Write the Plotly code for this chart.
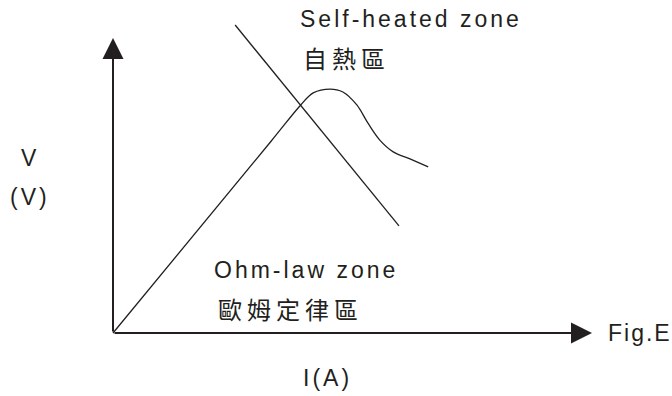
import plotly.graph_objects as go

# V-I characteristic (arbitrary units)
current = [0, 3.3, 3.92, 4.18, 4.53, 4.80, 5.09, 5.32, 5.57, 5.85, 6.20, 6.58]
voltage = [0, 6.5, 7.73, 8.14, 8.27, 8.17, 7.73, 7.12, 6.54, 6.14, 5.90, 5.63]

# straight load line crossing the curve
line_i = [2.55, 5.97]
line_v = [10.44, 3.63]

# axis extents
axis_i_end = 10
axis_v_end = 10

INK = "#231f20"
FONT = "Liberation Sans, Arial, Noto Sans CJK TC, sans-serif"


def spaced(text, px):
    return f'<span style="letter-spacing:{px}px">{text}</span>'


fig = go.Figure()
fig.add_trace(go.Scatter(x=current, y=voltage, mode="lines",
                         line=dict(color=INK, width=1.3, shape="spline", smoothing=1.0),
                         hoverinfo="skip"))
fig.add_trace(go.Scatter(x=line_i, y=line_v, mode="lines",
                         line=dict(color=INK, width=1.3), hoverinfo="skip"))

# axes drawn as arrows from the origin
for hx, hy in [(axis_i_end, 0), (0, axis_v_end)]:
    fig.add_annotation(x=hx, y=hy, ax=0, ay=0, xref="x", yref="y", axref="x", ayref="y",
                       text="", showarrow=True, arrowhead=2, arrowsize=2.1,
                       arrowwidth=2, arrowcolor=INK, standoff=0, startstandoff=0)

labels = [
    ("Self-heated zone", 3.86, 10.64, "left", 23, 3),
    ("自熱區", 3.92, 9.27, "left", 24, 5),
    ("Ohm-law zone", 2.07, 2.14, "left", 23, 3),
    ("歐姆定律區", 2.16, 0.75, "left", 24, 5),
    ("Fig.E", 10.29, 0.0, "left", 23, 2),
    ("I(A)", 4.47, -1.53, "center", 23, 3),
    ("V", -1.73, 5.93, "center", 23, 3),
    ("(V)", -1.73, 4.61, "center", 23, 3),
]
for txt, x, y, anchor, size, sp in labels:
    fig.add_annotation(x=x, y=y, xref="x", yref="y", text=spaced(txt, sp),
                       showarrow=False, xanchor=anchor, yanchor="middle",
                       font=dict(family=FONT, size=size, color=INK))

fig.update_layout(
    width=672, height=396,
    margin=dict(l=0, r=0, t=0, b=0),
    paper_bgcolor="white", plot_bgcolor="white",
    showlegend=False,
    xaxis=dict(range=[-2.359, 11.670], visible=False, fixedrange=True),
    yaxis=dict(range=[-2.136, 11.288], visible=False, fixedrange=True),
)

fig.write_html("out.html", config={"displayModeBar": False},
               post_script="document.body.style.margin='0';")
